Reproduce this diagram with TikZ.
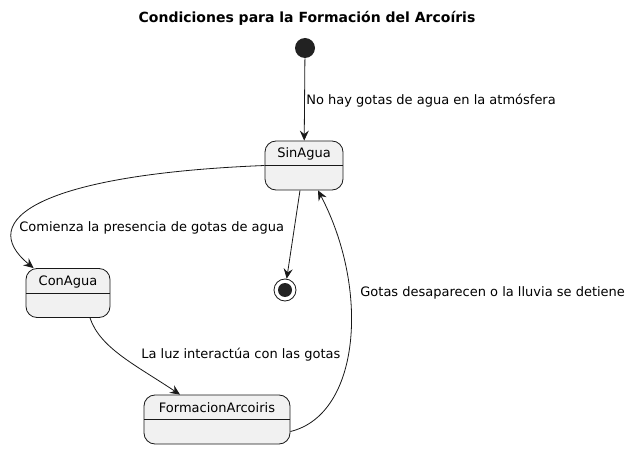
\documentclass[tikz,border=0pt]{standalone}
\usepackage{fontspec}
\setmainfont{DejaVu Sans}
\usetikzlibrary{arrows.meta}

\definecolor{statefill}{HTML}{F1F1F1}
\definecolor{lineclr}{HTML}{181818}
\definecolor{dotclr}{HTML}{222222}

\begin{document}
\begin{tikzpicture}[x=1pt, y=-1pt, font=\fontsize{13}{15}\selectfont, line width=0.8pt]
    \tikzset{
      state/.style={draw=lineclr, fill=statefill, rounded corners=11pt, inner xsep=6pt, inner ysep=0pt,
        text height=17pt, text depth=32pt, minimum height=49pt,
        path picture={\draw[lineclr, line width=0.6pt] (path picture bounding box.west) -- (path picture bounding box.east);}},
      trans/.style={draw=lineclr, -{Stealth[length=10pt, width=9pt, inset=3.5pt]}},
      lbl/.style={anchor=west, inner sep=0pt}
    }
    \useasboundingbox (0,0) rectangle (632,449);
    \node[font=\fontsize{14}{16}\selectfont\bfseries] (title) at (307,18) {Condiciones para la Formación del Arcoíris};
    % states
    \node[circle, fill=dotclr, minimum size=20pt, inner sep=0pt] (start) at (305,48) {};
    \node[state, minimum width=78pt] (sin) at (304,165.5) {SinAgua};
    \node[state, minimum width=84pt] (con) at (68,293) {ConAgua};
    \node[state, minimum width=146pt] (form) at (217,419.5) {FormacionArcoiris};
    \node[circle, draw=lineclr, minimum size=22pt, inner sep=0pt] (fin) at (285,290) {};
    \fill[dotclr] (fin) circle (7pt);
    % transitions
    \draw[trans] (start) -- (sin);
    \node[lbl] (l1) at (306,101) {No hay gotas de agua en la atmósfera};
    \draw[trans] (sin.west) .. controls +(-225,9) and +(-59,-48) .. ([xshift=8pt]con.north west);
    \node[lbl] (l2) at (19,228) {Comienza la presencia de gotas de agua};
    \draw[trans] ([xshift=-4pt]sin.south) -- (fin);
    \draw[trans] ([xshift=22pt]con.south) .. controls +(10,30) and +(-45,-30) .. ([xshift=-37pt]form.north);
    \node[lbl] (l3) at (141,355) {La luz interactúa con las gotas};
    \draw[trans] ([yshift=-12pt]form.east) .. controls +(70,-17) and +(52,99) .. ([xshift=14pt]sin.south);
    \node[lbl] (l4) at (360,293) {Gotas desaparecen o la lluvia se detiene};
\end{tikzpicture}
\end{document}
